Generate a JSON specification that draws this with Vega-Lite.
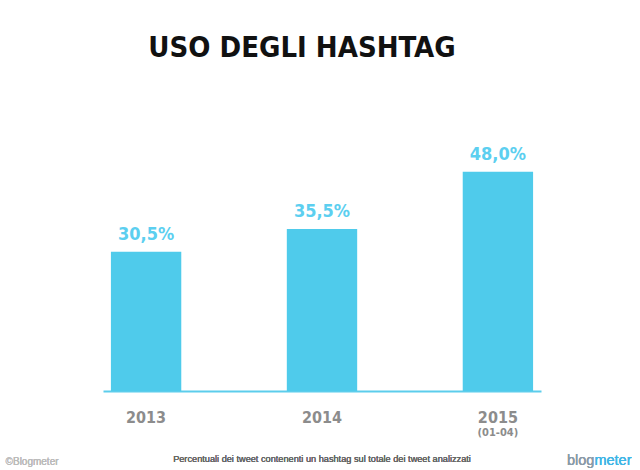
{
  "$schema": "https://vega.github.io/schema/vega-lite/v6.json",
  "autosize": "none",
  "width": 438,
  "height": 274,
  "padding": {"left": 103, "top": 117, "right": 99, "bottom": 79},
  "background": "white",
  "config": {"view": {"stroke": null}},
  "title": {
    "text": "USO DEGLI HASHTAG",
    "font": "DejaVu Sans Condensed, sans-serif",
    "fontSize": 29,
    "fontWeight": "bold",
    "color": "#111111",
    "anchor": "middle",
    "dx": -20,
    "offset": 31,
    "baseline": "alphabetic"
  },
  "data": {
    "values": [
      {"year": "2013", "value": 30.5, "label": "30,5%", "note": ""},
      {"year": "2014", "value": 35.5, "label": "35,5%", "note": ""},
      {"year": "2015", "value": 48.0, "label": "48,0%", "note": "(01-04)"}
    ]
  },
  "encoding": {
    "x": {
      "field": "year",
      "type": "nominal",
      "sort": null,
      "scale": {"paddingInner": 0.6, "paddingOuter": 0.045},
      "axis": {
        "title": null,
        "labelAngle": 0,
        "ticks": false,
        "domain": true,
        "domainColor": "#5ccdec",
        "domainWidth": 2,
        "labelFont": "DejaVu Sans Condensed, sans-serif",
        "labelFontWeight": "bold",
        "labelFontSize": 16,
        "labelColor": "#8c8c8c",
        "labelPadding": 18
      }
    }
  },
  "layer": [
    {
      "mark": {"type": "bar", "color": "#4fcbeb"},
      "encoding": {
        "y": {"field": "value", "type": "quantitative", "scale": {"domain": [0, 60]}, "axis": null}
      }
    },
    {
      "mark": {
        "type": "text",
        "color": "#5ccff0",
        "font": "DejaVu Sans Condensed, sans-serif",
        "fontWeight": "bold",
        "fontSize": 18,
        "baseline": "alphabetic",
        "dy": -12
      },
      "encoding": {
        "y": {"field": "value", "type": "quantitative"},
        "text": {"field": "label"}
      }
    },
    {
      "mark": {
        "type": "text",
        "color": "#8c8c8c",
        "font": "DejaVu Sans Condensed, sans-serif",
        "fontWeight": "bold",
        "fontSize": 11,
        "baseline": "alphabetic",
        "dy": 45
      },
      "encoding": {
        "y": {"datum": 0},
        "text": {"field": "note"}
      }
    },
    {
      "mark": {
        "type": "text",
        "color": "#666666",
        "font": "Liberation Sans, sans-serif",
        "fontSize": 9.2,
        "baseline": "alphabetic",
        "dy": 71,
        "text": "Percentuali dei tweet contenenti un hashtag sul totale dei tweet analizzati"
      },
      "encoding": {"x": {"datum": "2014"}, "y": {"datum": 0}}
    },
    {
      "mark": {
        "type": "text",
        "color": "#bbbbbb",
        "font": "Liberation Sans, sans-serif",
        "fontSize": 10,
        "align": "left",
        "baseline": "alphabetic",
        "dx": -140.5,
        "dy": 74,
        "text": "©Blogmeter"
      },
      "encoding": {"x": {"datum": "2013"}, "y": {"datum": 0}}
    },
    {
      "mark": {
        "type": "text",
        "color": "#8a9aa8",
        "font": "Liberation Sans, sans-serif",
        "fontSize": 14.5,
        "align": "right",
        "baseline": "alphabetic",
        "dx": 96.5,
        "dy": 74,
        "text": "blog"
      },
      "encoding": {"x": {"datum": "2015"}, "y": {"datum": 0}}
    },
    {
      "mark": {
        "type": "text",
        "color": "#3fb6e6",
        "font": "Liberation Sans, sans-serif",
        "fontSize": 14.5,
        "align": "left",
        "baseline": "alphabetic",
        "dx": 96.5,
        "dy": 74,
        "text": "meter"
      },
      "encoding": {"x": {"datum": "2015"}, "y": {"datum": 0}}
    }
  ]
}
